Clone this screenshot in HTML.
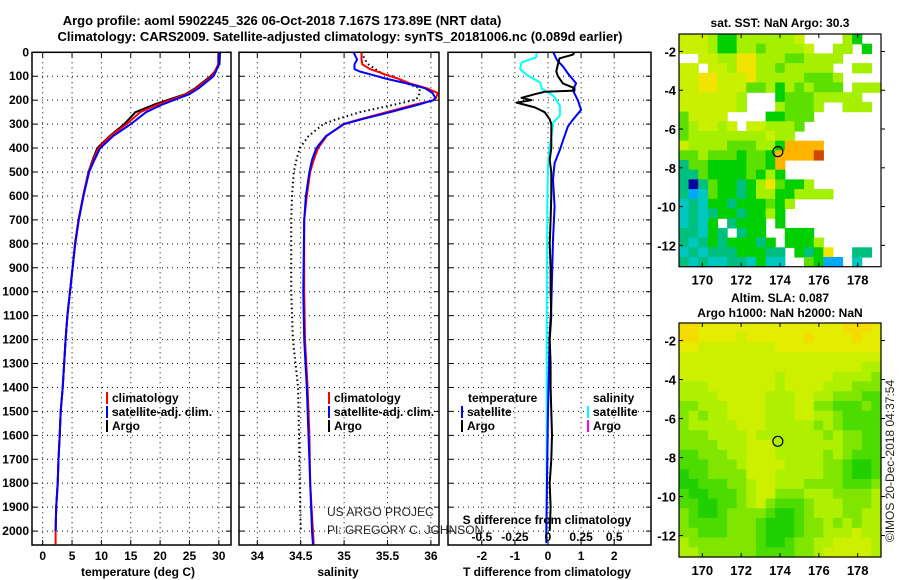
<!DOCTYPE html>
<html><head><meta charset="utf-8"><style>
html,body{margin:0;padding:0;background:#fff;width:900px;height:580px;overflow:hidden}
svg{display:block}
text{font-family:"Liberation Sans",sans-serif;font-weight:bold;font-size:12px;fill:#000}
.thin{font-weight:normal;fill:#222}
</style></head><body>
<svg id="chart" width="900" height="580" viewBox="0 0 900 580" xmlns="http://www.w3.org/2000/svg">
<text x="282" y="25" text-anchor="middle" style="font-size:13px">Argo profile: aoml 5902245_326 06-Oct-2018 7.167S 173.89E (NRT data)</text>
<text x="340" y="41" text-anchor="middle" style="font-size:13px">Climatology: CARS2009. Satellite-adjusted climatology: synTS_20181006.nc (0.089d earlier)</text>
<g id="g"></g>
</svg>
<script>
// ---- profile data ----
const tDepth=[0,50,80,100,150,175,200,220,250,300,350,400,450,500,600,700,800,900,1000,1100,1200,1400,1500,1600,1700,1800,1900,2000,2055];
const tClim=[29.9,29.9,29.3,28.8,26.2,24.5,21.7,19.4,16.6,14.3,11.5,9.5,8.6,7.8,6.9,6.1,5.5,5.1,4.65,4.2,3.9,3.4,3.07,2.9,2.7,2.55,2.3,2.2,2.2];
const tSat=[30.0,30.0,29.5,29.1,26.6,25.0,22.3,20.2,17.6,15.0,12.0,9.8,8.8,7.9,6.95,6.15,5.55,5.1,4.65,4.2,3.9,3.4,3.07,2.9,2.7,2.55,2.3,2.2,null];
const tArgo=[30.2,30.1,29.3,28.6,26.0,24.3,21.2,18.8,15.8,13.9,11.4,9.3,8.5,7.8,6.9,6.1,5.5,5.1,4.65,4.2,3.9,3.4,3.07,2.9,2.7,2.55,2.3,2.2,null];
const sDepth=[0,30,50,70,80,90,100,110,130,150,170,190,200,220,250,280,300,350,400,450,500,600,700,1000,1200,1400,1600,1800,2000,2055];
const sClim=[35.20,35.20,35.21,35.30,35.38,35.45,35.53,35.62,35.76,35.95,36.08,36.06,36.03,35.80,35.49,35.18,34.99,34.80,34.70,34.65,34.61,34.57,34.54,34.54,34.55,34.58,34.60,34.61,34.64,34.65];
const sSat=[35.11,35.15,35.12,35.12,35.18,35.28,35.38,35.48,35.72,35.93,36.02,36.05,36.03,35.84,35.53,35.20,35.00,34.79,34.68,34.63,34.60,34.56,34.54,34.53,34.54,34.57,34.59,34.61,34.63,34.64];
const sArgo=[35.20,35.24,35.28,35.36,35.40,35.45,35.56,35.62,35.72,35.87,35.87,35.85,35.80,35.56,35.18,34.91,34.76,34.59,34.49,34.45,34.42,34.40,34.39,34.39,34.41,34.47,34.48,34.49,34.50,null];
const dArgoTDepth=[0,10,25,50,80,100,130,150,160,165,175,190,200,210,230,250,280,300,350,400,450,500,600,700,800,900,1000,1100,1200,1300,1400,1500,1600,1700,1800,1900,2000];
const dArgoT=[0.8,0.75,0.35,0.3,0.25,0.3,0.45,0.8,0.8,-0.1,-0.4,-0.8,-0.5,-0.95,-0.4,-0.1,0.05,0.1,0.1,0.1,0.05,0.1,0.1,0.08,0.05,0.08,0.08,0.1,0.05,0.08,0.08,0.1,0.12,0.1,0.05,0.08,0.05];
const dSatTDepth=[0,32,60,88,130,158,200,240,282,310,366,407,463,533,644,783,1062,1173,1500,2000,2050];
const dSatT=[0.16,0.27,0.46,0.6,0.85,0.75,0.9,1.0,0.75,0.6,0.46,0.36,0.2,0.15,0.2,0.15,0.1,0.05,0.0,-0.05,-0.05];
const dSatSDepth=[0,21,42,70,98,126,153,181,223,265,293,335,404,474,641,1170,1500,2050];
const dSatS=[-0.085,-0.09,-0.2,-0.21,-0.15,-0.06,-0.045,0.04,0.09,0.09,0.04,0.03,0.01,0,-0.005,-0.01,-0.01,-0.01];
const depthTicks=[0,100,200,300,400,500,600,700,800,900,1000,1100,1200,1300,1400,1500,1600,1700,1800,1900,2000];
const tTicks=[0,5,10,15,20,25,30];
const sTicks=[34,34.5,35,35.5,36];
const dTTicks=[-2,-1,0,1,2];
const dSTicks=[-0.5,-0.25,0,0.25,0.5];
const mapLonTicks=[170,172,174,176,178];
const mapLatTicks=[-2,-4,-6,-8,-10,-12];
const argoLon=173.89, argoLat=-7.167;
const sstRows=["yyylGGlllllly....lG..","yyylGGllglllly..ll.G.","..yyllYYlllggllll....","yy.yylYYllglllll..ll.","yyYYyyyYlllllgggl....","yyYYyyygglGlglggg.lll","yyyyyyl...Gggglllll..","yyyyyyl...lgggl..lll.","gyyyy....GGggg.......","glyyly.yylllg........","gllllllllyll.........","yllllgggllGoooo......","gglgggGggGooooR......","tggGGGGggGo..........","ttgGGGGgGlG..........","tntgGGtGlYgGGl.......","tbcgGGtGllGGllll.....","ctcGGtGGGgGl.........","ctctGGtGGlG..........","ctcG.tGGG.G..........","ttcGt.tGG..GGG.......","tctGtGGGtG.GGGl......","ctctttGGGtt.GtGY..tt.","tctccttcGcc..gGbb.c.."];
const slaRows=["OOYYYYYYYYYYYYYYYOOOY","OOYYYYyYYYYYYOYYYYOYY","YYyyyyyyyyYYYYYYYYYYY","yyyyyyyyyyyyyyyyyyyyy","yyyyyyyyyyyyyyyyyyyll","yyyyyyyyyylyyyyyllllm","lllyyyyyyylyyyylllmmm","llllyyyyylllyyllmmmgg","mmlllyyyylllyymmgggmg","mlmllyyyylllyyllmgggg","mlllllyyylllllmlmgggg","mmmllllylllllllmlmmgg","mmmmlllyyylllllllmmgg","ggmmmllyyylllllmlmggg","gggmmmlyyyyllllmmgGGg","GggmmmmyyylllllmmgGGg","GGgggmmlyylllmmmmgggm","gGGgggmlyymmmlllmmmml","ggGGggmlymgggmlllmmml","mgGGgmmmmgGGgmlllmmll","mggggmmmgGGGgmmlmlmll","mmgggmmmgGGGgmmlllyll","lmmmmmmmgGGgmmllyyyyl","llmmmmmmggggmmlyyyyyl"];

const NS='http://www.w3.org/2000/svg';
const G=document.getElementById('g');
function mk(tag,attrs,parent){const e=document.createElementNS(NS,tag);for(const k in attrs)e.setAttribute(k,attrs[k]);(parent||G).appendChild(e);return e;}
function txt(x,y,s,anchor,parent,cls){const e=mk('text',{x:x,y:y,'text-anchor':anchor||'start'},parent);if(cls)e.setAttribute('class',cls);e.textContent=s;return e;}

const TOP=52.3, BOT=545;
const yD=d=>TOP+d*0.2394;
const xT=v=>42.7+v*5.87;
const xS=v=>257.3+(v-34)*86.8;
const xDT=v=>548+v*33.1;
const xDS=v=>548+v*132.4;
const panels=[{x0:32,x1:231,name:'temperature-panel'},{x0:239,x1:439,name:'salinity-panel'},{x0:448,x1:651,name:'difference-panel'}];

function grid(p,xs){
  const g=mk('g',{});
  
  
  depthTicks.forEach(d=>{mk('line',{x1:p.x0,x2:p.x1,y1:yD(d),y2:yD(d),stroke:'#000','stroke-width':1,'stroke-dasharray':'1,4'},g);
    mk('line',{x1:p.x0,x2:p.x0+5,y1:yD(d),y2:yD(d),stroke:'#000'},g);mk('line',{x1:p.x1-5,x2:p.x1,y1:yD(d),y2:yD(d),stroke:'#000'},g);});
  xs.forEach(x=>{mk('line',{x1:x,x2:x,y1:TOP,y2:BOT,stroke:'#000','stroke-width':1,'stroke-dasharray':'1,4'},g);
    mk('line',{x1:x,x2:x,y1:BOT-5,y2:BOT,stroke:'#000'},g);mk('line',{x1:x,x2:x,y1:TOP,y2:TOP+5,stroke:'#000'},g);});
}
function frame(p){const r=mk('rect',{x:p.x0,y:TOP,width:p.x1-p.x0,height:BOT-TOP,fill:'none',stroke:'#000','stroke-width':1.5});
  
  }
function line(depths,vals,sx,color,w,name,dash){
  let d='';let pen=false;
  depths.forEach((dd,i)=>{const v=vals[i];if(v===null||v===undefined){pen=false;return;}
    d+=(pen?'L':'M')+sx(v).toFixed(1)+','+yD(dd).toFixed(1);pen=true;});
  const a={d:d,fill:'none',stroke:color,'stroke-width':w,'stroke-linejoin':'round'};
  if(dash)a['stroke-dasharray']=dash;
  const e=mk('path',a);
  
  
  return e;
}
const defs=mk('defs',{});
panels.forEach((p,i)=>{const c=mk('clipPath',{id:'cp'+i},defs);mk('rect',{x:p.x0,y:TOP-1,width:p.x1-p.x0,height:BOT-TOP+1},c);});

// panel 1
grid(panels[0],tTicks.map(xT));
let l;
l=line(tDepth,tArgo,xT,'#000',2,'argo-temperature-line');l.setAttribute('clip-path','url(#cp0)');
l=line(tDepth,tClim,xT,'#f00',2,'climatology-temperature-line');l.setAttribute('clip-path','url(#cp0)');
l=line(tDepth,tSat,xT,'#00f',2,'satellite-temperature-line');l.setAttribute('clip-path','url(#cp0)');
frame(panels[0]);
depthTicks.forEach(d=>{const t=txt(29,yD(d)+4,String(d),'end');
  
  });
tTicks.forEach(v=>{const t=txt(xT(v),560,String(v),'middle');
  
  });
txt(138,576,'temperature (deg C)','middle');

// panel 2
grid(panels[1],sTicks.map(xS));
l=line(sDepth,sArgo,xS,'#000',2,'argo-salinity-line','1.5,3');l.setAttribute('clip-path','url(#cp1)');
l=line(sDepth,sClim,xS,'#f00',2,'climatology-salinity-line');l.setAttribute('clip-path','url(#cp1)');
l=line(sDepth,sSat,xS,'#00f',2,'satellite-salinity-line');l.setAttribute('clip-path','url(#cp1)');
frame(panels[1]);
sTicks.forEach(v=>{const t=txt(xS(v),560,String(v),'middle');
  
  });
txt(338,576,'salinity','middle');

function legend(x,y,color,label,name){
  const g=mk('g',{});
  
  
  mk('rect',{x:x,y:y-10,width:2,height:12,fill:color},g);
  txt(x+6,y,label,'start',g);
}
legend(106,402,'#f00','climatology','legend-climatology-temp');
legend(106,416,'#00f','satellite-adj. clim.','legend-satellite-temp');
legend(106,430,'#000','Argo','legend-argo-temp');
legend(328,402,'#f00','climatology','legend-climatology-sal');
legend(328,416,'#00f','satellite-adj. clim.','legend-satellite-sal');
legend(328,430,'#000','Argo','legend-argo-sal');
const c1=txt(327,516,'US ARGO PROJEC','start',null,'thin');

// panel 3
const bg=mk('rect',{x:448,y:TOP,width:203,height:BOT-TOP,fill:'#fff'});
grid(panels[2],dTTicks.map(xDT));
l=line(dSatSDepth,dSatS,xDS,'#0ff',2,'satellite-salinity-diff-line');l.setAttribute('clip-path','url(#cp2)');
l=line(dSatTDepth,dSatT,xDT,'#00f',2,'satellite-temperature-diff-line');l.setAttribute('clip-path','url(#cp2)');
l=line(dArgoTDepth,dArgoT,xDT,'#000',2,'argo-temperature-diff-line');l.setAttribute('clip-path','url(#cp2)');
frame(panels[2]);
dTTicks.forEach(v=>{const t=txt(xDT(v),560,String(v),'middle');
  
  });
dSTicks.forEach(v=>{const t=txt(xDS(v),541,String(v),'middle');
  
  });
txt(547,524,'S difference from climatology','middle');
txt(547,576,'T difference from climatology','middle');
txt(468,402,'temperature','start');
txt(593,402,'salinity','start');
legend(461,416,'#00f','satellite','legend-satellite-tdiff');
legend(461,430,'#000','Argo','legend-argo-tdiff');
legend(587,416,'#0ff','satellite','legend-satellite-sdiff');
legend(587,430,'#f0f','Argo','legend-argo-sdiff');
const c2=txt(327,534,'PI: GREGORY C. JOHNSON','start',null,'thin');

// maps
const sstCol={y:'#c8f000',Y:'#f0e400',l:'#a4f000',g:'#5ce000',G:'#00d000',t:'#00c080',c:'#00c8c0',b:'#00a8ff',n:'#0000a0',o:'#ffb400',R:'#d04800'};
const slaCol={O:'#f4dc00',Y:'#e4ec00',y:'#ccf000',l:'#aef000',m:'#80e600',g:'#4cdc00',G:'#20d000'};
function map(top,bottom,rows,cols,name,title1,title2){
  const L=679,R=881,lon0=168.8,lon1=179.2,lat0=-1.1,lat1=-13.1;
  const mx=v=>L+(v-lon0)*(R-L)/(lon1-lon0);
  const my=v=>top+(lat0-v)*(bottom-top)/(lat0-lat1);
  const g=mk('g',{});
  
  
  const cw=(R-L)/rows[0].length, ch=(bottom-top)/rows.length;
  rows.forEach((row,r)=>{for(let c=0;c<row.length;c++){const k=row[c];if(k==='.')continue;
    mk('rect',{x:(L+c*cw).toFixed(1),y:(top+r*ch).toFixed(1),width:(cw+0.6).toFixed(1),height:(ch+0.6).toFixed(1),fill:cols[k]},g);}});
  mk('rect',{x:L,y:top,width:R-L,height:bottom-top,fill:'none',stroke:'#000','stroke-width':1.2},g);
  mapLonTicks.forEach(v=>{mk('line',{x1:mx(v),x2:mx(v),y1:bottom,y2:bottom-4,stroke:'#000'},g);mk('line',{x1:mx(v),x2:mx(v),y1:top,y2:top+4,stroke:'#000'},g);
    txt(mx(v),bottom+18,String(v),'middle',g).setAttribute('style','font-size:13px');});
  mapLatTicks.forEach(v=>{mk('line',{x1:L,x2:L+4,y1:my(v),y2:my(v),stroke:'#000'},g);mk('line',{x1:R,x2:R+4,y1:my(v),y2:my(v),stroke:'#000'},g);
    txt(L-3,my(v)+5,String(v),'end',g).setAttribute('style','font-size:13px');});
  const ci=mk('circle',{cx:mx(argoLon),cy:my(argoLat),r:5,fill:'none',stroke:'#000','stroke-width':1.2},g);
  
  
  if(title1)txt(780,top-(title2?21:7),title1,'middle',g);
  if(title2)txt(780,top-6,title2,'middle',g);
}
map(34,266.7,sstRows,sstCol,'sst-map','sat. SST: NaN Argo: 30.3');
map(323,557,slaRows,slaCol,'sla-map','Altim. SLA: 0.087','Argo h1000: NaN h2000: NaN');
const cr=txt(0,0,'©IMOS 20-Dec-2018 04:37:54','middle',null,'thin');
cr.setAttribute('transform','translate(894,461) rotate(-90)');
cr.setAttribute('style','font-size:12px');


</script>
</body></html>
